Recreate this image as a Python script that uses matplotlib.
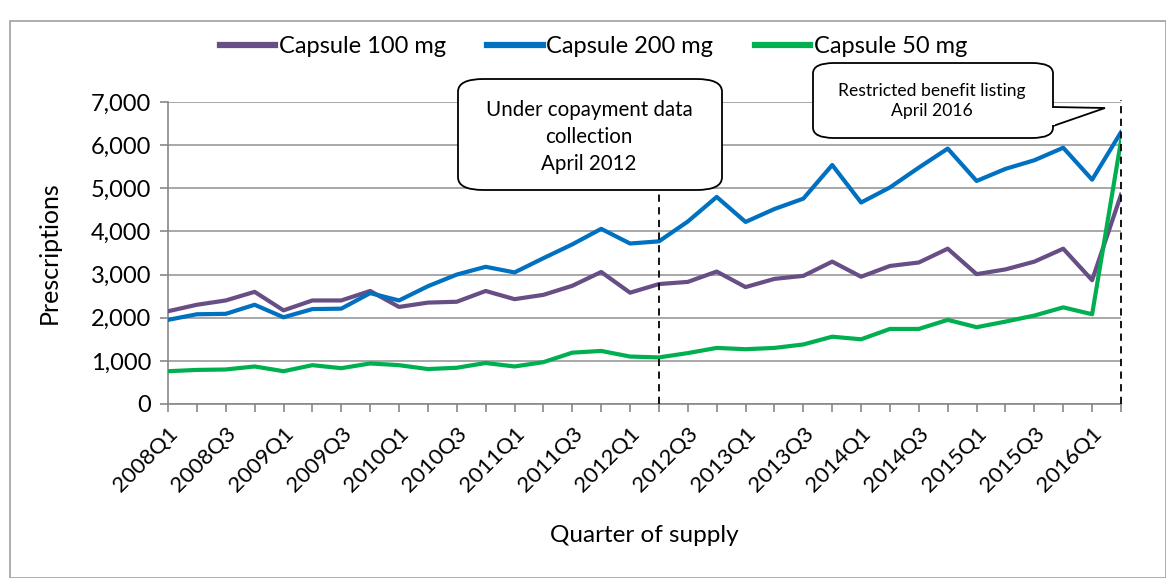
import numpy as np
import matplotlib
matplotlib.use("Agg")
import matplotlib.pyplot as plt
from matplotlib.patches import FancyBboxPatch, Polygon, Rectangle
from matplotlib.ticker import FuncFormatter

plt.rcParams['font.family'] = ['Lato', 'DejaVu Sans']

# quarters 2008Q1 .. 2016Q2
quarters = [f"{y}Q{q}" for y in range(2008, 2017) for q in range(1, 5)][:34]

cap_100 = [2150, 2300, 2400, 2600, 2170, 2400, 2400, 2620,
           2250, 2350, 2370, 2620, 2430, 2530, 2740, 3060,
           2580, 2780, 2830, 3070, 2710, 2900, 2970, 3300,
           2950, 3200, 3280, 3600, 3010, 3120, 3300, 3600,
           2870, 4850]
cap_200 = [1950, 2080, 2090, 2300, 2010, 2200, 2210, 2570,
           2400, 2730, 3000, 3180, 3050, 3380, 3700, 4060,
           3720, 3770, 4230, 4800, 4220, 4520, 4760, 5540,
           4670, 5020, 5480, 5920, 5170, 5450, 5650, 5940,
           5200, 6300]
cap_50 = [760, 790, 800, 870, 760, 900, 830, 940,
          900, 810, 840, 950, 870, 970, 1190, 1230,
          1100, 1080, 1180, 1300, 1270, 1300, 1380, 1560,
          1500, 1740, 1740, 1950, 1780, 1910, 2050, 2240,
          2080, 6100]

series_names = ["Capsule 100 mg", "Capsule 200 mg", "Capsule 50 mg"]
colors = ["#674E85", "#0070C0", "#00B050"]

event_idx = [17, 33]  # 2012Q2, 2016Q2

fig = plt.figure(figsize=(11.66, 5.78), dpi=100)
W, H = 1166, 578

# outer frame
fig.patches.append(Rectangle((10 / W, 0), 1 - 10 / W, 1 - 21 / H, transform=fig.transFigure,
                             fill=False, edgecolor="#A0A0A0", lw=1.2))

ax = fig.add_axes([168 / W, 1 - 404 / H, (1121 - 168) / W, (404 - 102) / H])
x = np.arange(len(quarters))
for vals, name, c in zip([cap_100, cap_200, cap_50], series_names, colors):
    ax.plot(x, vals, color=c, lw=3.0, label=name, zorder=3)

ax.set_xlim(0, len(quarters) - 1)
ax.set_ylim(0, 7000)
ax.set_yticks(np.arange(0, 7001, 1000))
ax.yaxis.set_major_formatter(FuncFormatter(lambda v, p: f"{int(v):,}"))
ax.set_xticks(x)
ax.set_xticklabels([q if i % 2 == 0 else "" for i, q in enumerate(quarters)],
                   rotation=45, ha="right", rotation_mode="anchor", fontsize=16)
ax.tick_params(axis="y", labelsize=17, length=6, color="#888888", width=1.2, pad=6)
ax.tick_params(axis="x", length=6, color="#888888", width=1.2, pad=8)
ax.grid(axis="y", color="#999999", lw=1.2, zorder=0)
for s in ["top", "right"]:
    ax.spines[s].set_visible(False)
for s in ["left", "bottom"]:
    ax.spines[s].set_color("#888888")
    ax.spines[s].set_linewidth(1.2)

ax.set_ylabel("Prescriptions", fontsize=18)
ax.yaxis.set_label_coords(-0.113, 0.5)
ax.set_xlabel("Quarter of supply", fontsize=17.5)
ax.xaxis.set_label_coords(0.5, -0.40)

# dashed event lines
ax.plot([event_idx[0]] * 2, [0, 5000], color="black", ls=(0, (4, 3)), lw=1.3, zorder=4)
ax.plot([event_idx[1]] * 2, [0, 7050], color="black", ls=(0, (4, 3)), lw=1.3, zorder=4,
        clip_on=False)

leg = ax.legend(loc="center", bbox_to_anchor=(0.509, 0.919), bbox_transform=fig.transFigure,
                ncol=3, frameon=False, fontsize=17, handlelength=2.35, handletextpad=0.15,
                columnspacing=1.75)
for h in leg.get_lines():
    h.set_linewidth(4.5)

# callout 1
b1 = FancyBboxPatch((458 / W, 1 - 190 / H), (722 - 458) / W, (190 - 79) / H,
                    boxstyle="round,pad=0,rounding_size=0.022", transform=fig.transFigure,
                    facecolor="white", edgecolor="black", lw=1.3, zorder=5)
fig.patches.append(b1)
fig.text(589 / W, 1 - 137 / H, "Under copayment data\ncollection\nApril 2012",
         ha="center", va="center", fontsize=14.8, linespacing=1.45, zorder=10)

# callout 2
b2 = FancyBboxPatch((813 / W, 1 - 138 / H), (1053 - 813) / W, (138 - 63) / H,
                    boxstyle="round,pad=0,rounding_size=0.018", transform=fig.transFigure,
                    facecolor="white", edgecolor="black", lw=1.3, zorder=5)
fig.patches.append(b2)
tail = [(1053 / W, 1 - 107 / H), (1105 / W, 1 - 108 / H), (1053 / W, 1 - 126 / H)]
fig.patches.append(Polygon(tail, closed=False, transform=fig.transFigure, facecolor="white",
                           edgecolor="black", lw=1.3, zorder=6))
fig.patches.append(Rectangle((1051 / W, 1 - 125 / H), 4 / W, 17 / H, transform=fig.transFigure,
                             facecolor="white", edgecolor="none", zorder=7))
fig.text(932 / W, 1 - 101 / H, "Restricted benefit listing\nApril 2016",
         ha="center", va="center", fontsize=12.6, linespacing=1.35, zorder=10)

fig.savefig("out.png", dpi=100)
